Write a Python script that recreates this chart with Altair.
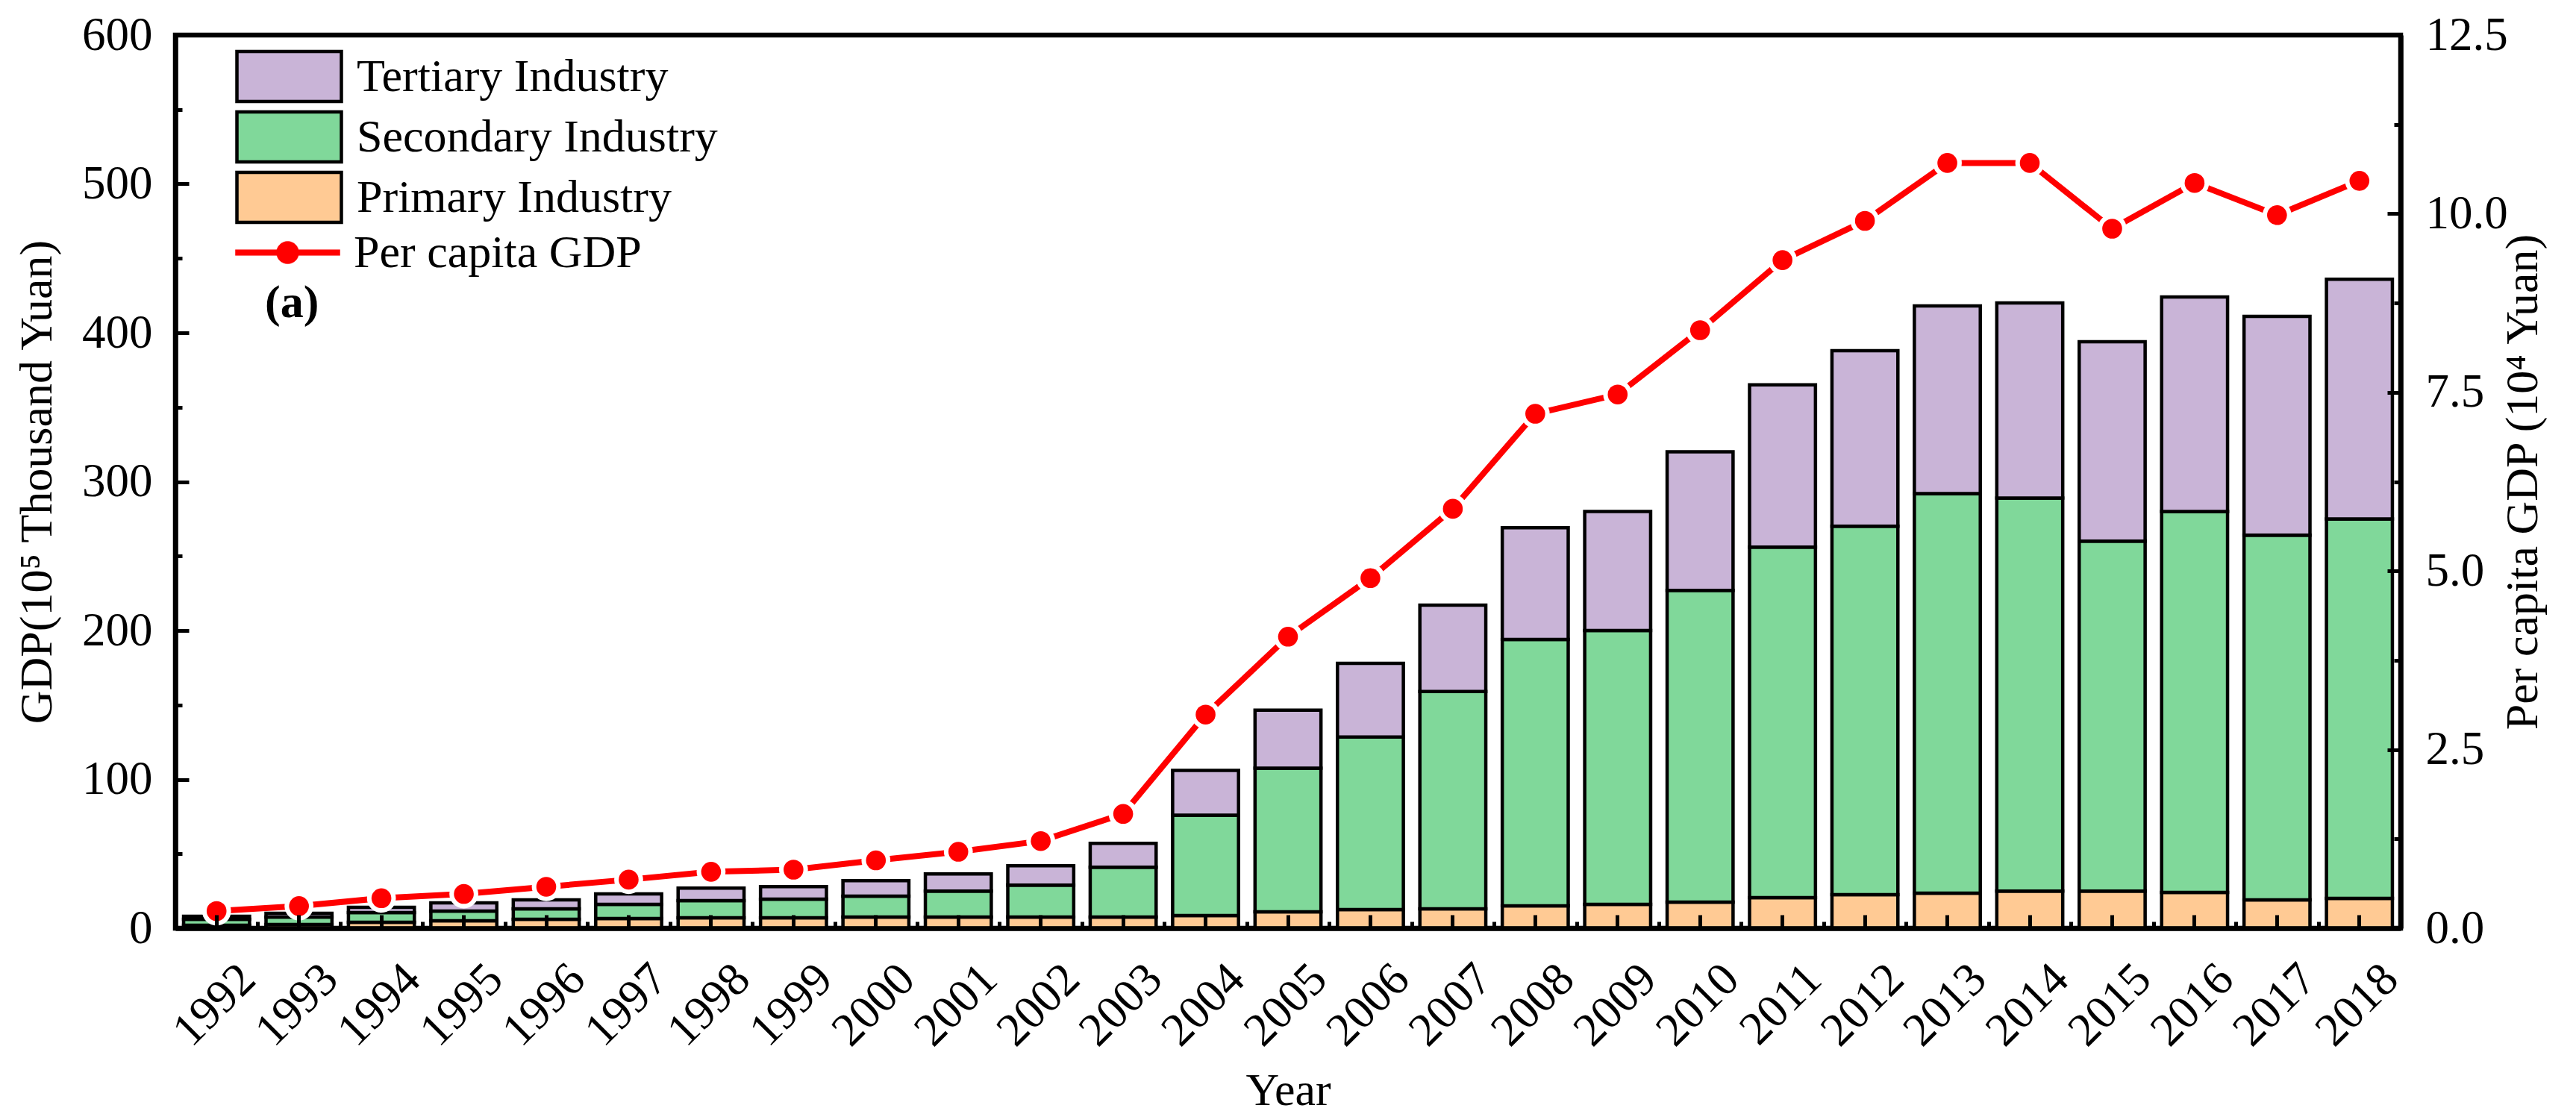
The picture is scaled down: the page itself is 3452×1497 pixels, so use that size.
import altair as alt
import pandas as pd

years = ["1992", "1993", "1994", "1995", "1996", "1997", "1998", "1999", "2000",
         "2001", "2002", "2003", "2004", "2005", "2006", "2007", "2008", "2009",
         "2010", "2011", "2012", "2013", "2014", "2015", "2016", "2017", "2018"]

primary = [2, 2.5, 4, 5, 6, 6.5, 7, 7, 7.5, 7.5, 7.5, 7.5, 8.5, 11, 12.5, 13,
           15, 16, 17.5, 20.5, 22.5, 23.5, 25, 25, 24, 19, 20]
secondary = [4, 5, 6.5, 6.5, 7, 9.5, 11.5, 12.5, 14, 17.5, 21.5, 33.5, 67.5,
             96.5, 116, 146, 179, 184, 209.5, 235.5, 247.5, 268.5, 264, 235,
             256, 245, 255]
tertiary = [2, 2.5, 3.5, 5.5, 6, 7, 8.5, 8.5, 10.5, 11.5, 13, 16, 30, 39,
            49.5, 58, 75, 80, 93, 109, 118, 126, 131, 134, 144, 147, 161]
per_capita = [0.24, 0.31, 0.42, 0.48, 0.58, 0.68, 0.79, 0.82, 0.95, 1.07,
              1.22, 1.60, 2.99, 4.08, 4.90, 5.87, 7.20, 7.47, 8.37, 9.35,
              9.90, 10.71, 10.71, 9.79, 10.43, 9.98, 10.46]

left_major = [0, 100, 200, 300, 400, 500, 600]
left_minor = [50, 150, 250, 350, 450, 550]
right_major = [0, 2.5, 5, 7.5, 10, 12.5]
right_minor = [1.25, 3.75, 6.25, 8.75, 11.25]

industry_names = ["Tertiary Industry", "Secondary Industry", "Primary Industry"]
industry_colors = ["#C9B4D7", "#80D89A", "#FFCA94"]
series_name = "Per capita GDP"
line_color = "#FF0000"

rows = []
for i, yr in enumerate(years):
    rows.append({"year": yr, "industry": "Primary Industry", "value": primary[i], "ord": 0})
    rows.append({"year": yr, "industry": "Secondary Industry", "value": secondary[i], "ord": 1})
    rows.append({"year": yr, "industry": "Tertiary Industry", "value": tertiary[i], "ord": 2})
bar_df = pd.DataFrame(rows)
line_df = pd.DataFrame({"year": years, "pcgdp": per_capita, "series": series_name})

FONT = "Liberation Serif"
RECT_PATH = "M-2,-0.96H2V0.96H-2Z"
LINE_PATH = ("M-2,-0.11H-0.42V0.11H-2Z M0.42,-0.11H2V0.11H0.42Z "
             "M0.43,0A0.43,0.43,0,1,1,-0.43,0A0.43,0.43,0,1,1,0.43,0Z")

TICK_W = 5
MAJ = 18
MIN = 9
LABEL_FS = 63
TITLE_FS = 62
LEGEND_FS = 62

left_scale = alt.Scale(domain=[0, 600], nice=False)
right_scale = alt.Scale(domain=[0, 12.5], nice=False)
x_scale = alt.Scale(paddingInner=0.2, paddingOuter=0.1)


def tick_axis(orient, values=None, length=MAJ, band_pos=None, tick_offset=None):
    kw = dict(orient=orient, labels=False, domain=False, title=None, ticks=True,
              tickSize=length, offset=-length, tickWidth=TICK_W,
              tickColor="black", grid=False, zindex=2)
    if values is not None:
        kw["values"] = values
    if band_pos is not None:
        kw["bandPosition"] = band_pos
    if tick_offset is not None:
        kw["tickOffset"] = tick_offset
    return alt.Axis(**kw)


# ---- left group: bars + tick axes on the left scale ----
bars = alt.Chart(bar_df).mark_bar(stroke="black", strokeWidth=4.5, opacity=1).encode(
    x=alt.X(
        "year:N", scale=x_scale,
        axis=alt.Axis(
            orient="bottom", title="Year", labelAngle=315, labelAlign="right",
            labelBaseline="top", labelPadding=36, labelOffset=20,
            labelOverlap=False, labelBound=False, ticks=False,
            domainWidth=6.5, domainColor="black", titlePadding=18, zindex=1,
        ),
    ),
    y=alt.Y(
        "value:Q", stack="zero", scale=left_scale,
        axis=alt.Axis(
            orient="left", title="GDP(10⁵ Thousand Yuan)", values=left_major,
            ticks=False, domainWidth=6.5, domainColor="black",
            labelPadding=31, titlePadding=28, zindex=1, grid=False,
        ),
    ),
    fill=alt.Fill(
        "industry:N",
        scale=alt.Scale(domain=industry_names, range=industry_colors),
        legend=alt.Legend(
            title=None, orient="none", legendX=115, legendY=18,
            symbolType=RECT_PATH, symbolSize=4900, symbolStrokeColor="black",
            symbolStrokeWidth=4.5, symbolOpacity=1, labelFont=FONT,
            labelFontSize=LEGEND_FS, labelColor="black", labelOffset=53,
            labelLimit=1000, rowPadding=-7, padding=0,
        ),
    ),
    order=alt.Order("ord:Q", sort="ascending"),
)

left_ticks_major = alt.Chart(line_df).mark_point(opacity=0, size=1).encode(
    x=alt.X("year:N", scale=x_scale, axis=tick_axis("bottom", length=MAJ)),
    y=alt.Y("pcgdp:Q", scale=left_scale, axis=tick_axis("left", left_major, MAJ)),
)
left_ticks_minor = alt.Chart(line_df).mark_point(opacity=0, size=1).encode(
    x=alt.X("year:N", scale=x_scale,
            axis=tick_axis("bottom", length=MIN, band_pos=0, tick_offset=-11)),
    y=alt.Y("pcgdp:Q", scale=left_scale, axis=tick_axis("left", left_minor, MIN)),
)

left_group = alt.layer(bars, left_ticks_major, left_ticks_minor).resolve_axis(
    x="independent", y="independent")

# ---- right group: per capita GDP line on the right scale ----
line = alt.Chart(line_df).mark_line(color=line_color, strokeWidth=8).encode(
    x=alt.X("year:N", scale=x_scale, axis=None),
    y=alt.Y(
        "pcgdp:Q", scale=right_scale,
        axis=alt.Axis(
            orient="right", title="Per capita GDP (10⁴ Yuan)", titleAngle=270,
            values=right_major, format=".1f", ticks=False,
            domainWidth=6.5, domainColor="black", labelPadding=33,
            titlePadding=52, zindex=1, grid=False,
        ),
    ),
)

halo = alt.Chart(line_df).mark_circle(color="white", size=1500, opacity=1).encode(
    x=alt.X("year:N", scale=x_scale, axis=None),
    y=alt.Y("pcgdp:Q", scale=right_scale, axis=None),
)

dots = alt.Chart(line_df).mark_circle(size=707, opacity=1).encode(
    x=alt.X("year:N", scale=x_scale, axis=None),
    y=alt.Y("pcgdp:Q", scale=right_scale, axis=None),
    color=alt.Color(
        "series:N",
        scale=alt.Scale(domain=[series_name], range=[line_color]),
        legend=alt.Legend(
            title=None, orient="none", legendX=115, legendY=256,
            symbolType=LINE_PATH, symbolSize=4900, symbolStrokeColor=line_color,
            symbolStrokeWidth=0.5, symbolOpacity=1, labelFont=FONT,
            labelFontSize=LEGEND_FS, labelColor="black", labelOffset=53,
            labelLimit=1000, padding=0,
        ),
    ),
)

right_ticks_major = alt.Chart(line_df).mark_point(opacity=0, size=1).encode(
    x=alt.X("year:N", scale=x_scale, axis=None),
    y=alt.Y("pcgdp:Q", scale=right_scale, axis=tick_axis("right", right_major, MAJ)),
)
right_ticks_minor = alt.Chart(line_df).mark_point(opacity=0, size=1).encode(
    x=alt.X("year:N", scale=x_scale, axis=None),
    y=alt.Y("pcgdp:Q", scale=right_scale, axis=tick_axis("right", right_minor, MIN)),
)

right_group = alt.layer(line, halo, dots, right_ticks_major, right_ticks_minor).resolve_axis(
    y="independent")

chart = (
    alt.layer(left_group, right_group)
    .resolve_scale(y="independent")
    .resolve_axis(x="independent", y="independent")
    .properties(
        width=2982, height=1197,
        padding={"left": 10, "top": 8, "right": 10, "bottom": 5},
        title=alt.Title("(a)", anchor="start", frame="group", orient="top",
                        dx=120, dy=452, baseline="middle", offset=0,
                        font=FONT, fontSize=62, fontWeight="bold", color="black"),
    )
    .configure_view(stroke="black", strokeWidth=6.5)
    .configure_axis(
        labelFont=FONT, titleFont=FONT, labelFontSize=LABEL_FS,
        titleFontSize=TITLE_FS, labelColor="black", titleColor="black",
        titleFontWeight="normal",
    )
    .configure_legend(labelFont=FONT, labelFontSize=LEGEND_FS, labelColor="black")
)

chart.save("out.html", embed_options={"renderer": "svg", "actions": False})
